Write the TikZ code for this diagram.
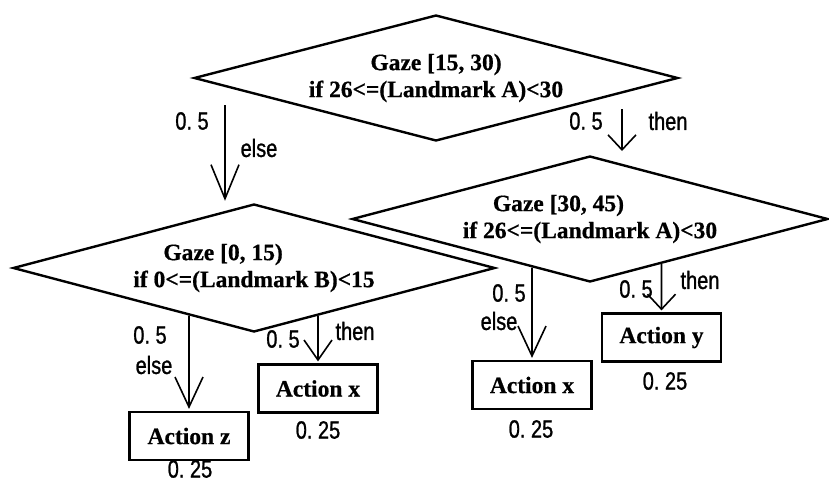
\documentclass[tikz,border=0pt]{standalone}
\usepackage{fontspec}
\setmainfont{Liberation Serif}[BoldFeatures={FakeBold=0.6}]
\newfontfamily\labfont[FakeStretch=0.8,FakeBold=1]{Liberation Sans}
\usetikzlibrary{shapes.geometric,arrows.meta}
\begin{document}
\begin{tikzpicture}[x=1pt,y=-1pt,
  decision/.style={diamond, draw, line width=2.4pt, aspect=3.84, inner sep=0pt,
    font=\fontsize{23.5}{27}\selectfont\bfseries},
  action/.style={rectangle, draw, line width=2.2pt, minimum width=119pt,
    minimum height=48pt, inner sep=0pt,
    font=\fontsize{23.5}{27}\selectfont\bfseries},
  lab/.style={inner sep=0pt, font=\fontsize{25}{28}\selectfont\labfont},
  flow/.style={line width=1.6pt, shorten >=2pt,
    -{Straight Barb[length=#1, width=28pt]}},
]
\useasboundingbox (0,0) rectangle (829,482);

% decisions
\node[decision, minimum width=484pt, minimum height=126pt, align=center]
  (d1) at (436,78) {Gaze [15, 30)\\if 26<=(Landmark A)<30};
\node[decision, minimum width=482pt, minimum height=128pt, align=left]
  (d2) at (254,268) {\hspace*{30pt}Gaze [0, 15)\\if 0<=(Landmark B)<15};
\node[decision, minimum width=476pt, minimum height=126pt, align=left]
  (d3) at (590,219) {\hspace*{30pt}Gaze [30, 45)\\if 26<=(Landmark A)<30};

% actions
\node[action] (az)  at (189,436)   {Action z};
\node[action] (ax1) at (318,388.5) {Action x};
\node[action] (ax2) at (532,385)   {Action x};
\node[action] (ay)  at (661.5,337.5) {Action y};

% probabilities of the actions
\node[lab] (pz)  at (190,469) {0.\ 25};
\node[lab] (px1) at (318,430) {0.\ 25};
\node[lab] (px2) at (531,429) {0.\ 25};
\node[lab] (py)  at (665,381) {0.\ 25};

% branches of the first decision
\coordinate (e1) at (225,105);
\coordinate (t1s) at (622,109);
\coordinate (t1e) at (622,153);
\draw[flow=34pt] (e1) -- (e1 |- d2.north);
\draw[flow=15pt] (t1s) -- (t1e);
\node[lab] (e1p) at (192,121) {0.\ 5};
\node[lab] (e1l) at (259,148) {else};
\node[lab] (t1p) at (586,121) {0.\ 5};
\node[lab] (t1l) at (668,121) {then};

% branches of the second decision
\draw[flow=30pt] (intersection of d2.west--d2.south and az.north--az.south) -- (az.north);
\draw[flow=20pt] (intersection of d2.south--d2.east and ax1.north--ax1.south) -- (ax1.north);
\node[lab] (e2p) at (150,335) {0.\ 5};
\node[lab] (e2l) at (154,365) {else};
\node[lab] (t2p) at (283,339) {0.\ 5};
\node[lab] (t2l) at (355,331) {then};

% branches of the third decision
\draw[flow=30pt] (intersection of d3.west--d3.south and ax2.north--ax2.south) -- (ax2.north);
\draw[flow=15pt] (intersection of d3.south--d3.east and ay.north--ay.south) -- (ay.north);
\node[lab] (e3p) at (509,293) {0.\ 5};
\node[lab] (e3l) at (499,321) {else};
\node[lab] (t3p) at (636,289) {0.\ 5};
\node[lab] (t3l) at (700,280) {then};
\end{tikzpicture}
\end{document}
